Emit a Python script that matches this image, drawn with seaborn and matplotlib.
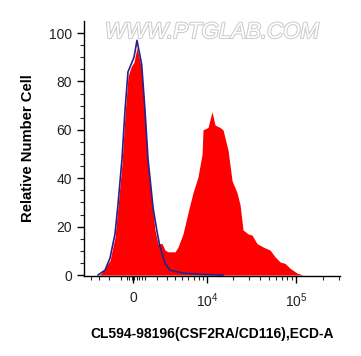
import numpy as np
import matplotlib
matplotlib.use('Agg')
import matplotlib.pyplot as plt
import matplotlib.patheffects as pe
import seaborn as sns

# sample (red) histogram (channel value, % of max)
red_x = [-3000, -2710, -1920, -1470, -1215, -880, -635, -395, -158, 80, 316, 692, 963, 1213,
         1559, 1830, 2112, 2507, 2818, 3149, 3998, 4396, 5112, 5902, 6819, 7832, 8761, 8980,
         10277, 11431, 12385, 14114, 15259, 17398, 19294, 21949, 23740, 25622, 26980, 29141,
         32290, 36704, 42848, 51276, 58313, 66278, 75261, 85510, 102334, 119313]
red_y = [0, 1, 6, 15.7, 28, 46, 66, 82, 86, 88, 94, 85, 67, 46,
         30, 18.6, 13, 13, 10.3, 9.6, 9.6, 11.6, 17, 25.6, 34, 40.5, 50, 60,
         61, 67.5, 62, 61, 60, 51.6, 39, 34, 29, 18.6, 18, 17,
         16.5, 13, 11.6, 10.3, 7.5, 5.4, 4.8, 2.8, 0.8, 0]

# isotype control (blue line)
blue_x = [-3150, -2400, -1920, -1470, -1215, -880, -635, -395, -158, 80, 316, 692, 963, 1213,
          1386, 1649, 2016, 2305, 2818, 3377, 5112, 8270, 15259]
blue_y = [0, 2, 7, 17, 29, 48, 68, 84, 87, 90, 97, 87, 68, 48,
          40, 28, 18, 11.6, 5, 2, 0.8, 0.3, 0]

x_ticks = [0, 1e4, 1e5]
x_ticklabels = ['0', '$10^4$', '$10^5$']

W = 3087.0
def fwd(x):
    return np.arcsinh(np.asarray(x, dtype=float) / W)
def inv(u):
    return W * np.sinh(np.asarray(u, dtype=float))

sns.set_style('ticks')
plt.rcParams['font.family'] = ['Liberation Sans', 'DejaVu Sans']
plt.rcParams['mathtext.fontset'] = 'custom'
plt.rcParams['mathtext.rm'] = 'Liberation Sans'

fig = plt.figure(figsize=(3.61, 3.56), dpi=100)
ax = fig.add_axes([0.2327, 0.2247, 0.7093, 0.7163])
ax.set_xscale('function', functions=(fwd, inv))

ax.fill_between(red_x, red_y, 0, color='#ff0000', lw=0)
sns.lineplot(x=blue_x, y=blue_y, ax=ax, color='#23238f', lw=1.2, sort=False)

ax.set_xlim(-4958, 307000)
ax.set_ylim(-0.4, 105)

ax.set_xticks(x_ticks)
ax.set_xticklabels(x_ticklabels)
minors = [-4000, -3000, -2000, -1000, -500, -300, -100, 100, 300, 500, 700, 1000]
minors += [k * 1000 for k in range(2, 10)] + [k * 10000 for k in range(2, 10)] + [2e5, 3e5]
ax.set_xticks(minors, minor=True)
ax.set_yticks(range(0, 101, 20))
ax.set_yticks(range(0, 101, 5), minor=True)

ax.tick_params(which='major', length=5, width=1, labelsize=10, colors='black', labelcolor='#222222')
ax.tick_params(which='minor', length=3, width=0.8)
ax.tick_params(axis='x', pad=6)
sns.despine(ax=ax)
for s in ['left', 'bottom']:
    ax.spines[s].set_linewidth(1)
    ax.spines[s].set_color('black')

ax.set_xlabel('CL594-98196(CSF2RA/CD116),ECD-A', fontsize=10, fontweight='bold', labelpad=12, color='black')
ax.set_ylabel('Relative Number Cell', fontsize=10.7, fontweight='bold', labelpad=10, color='black')

ax.text(0.5, 0.955, 'WWW.PTGLAB.COM', transform=ax.transAxes, ha='center', va='center',
        fontsize=16, color='white', style='italic',
        path_effects=[pe.withStroke(linewidth=1.5, foreground='#cccccc')])

fig.savefig('out.png', dpi=100)
